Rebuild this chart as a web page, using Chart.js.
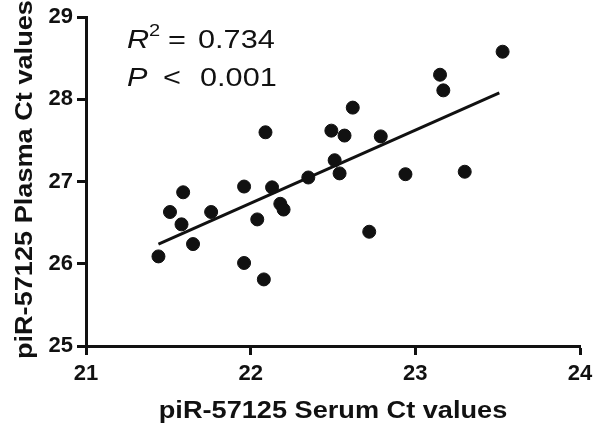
<!DOCTYPE html>
<html>
<head>
<meta charset="utf-8">
<script src="https://cdn.jsdelivr.net/npm/chart.js@4.4.1/dist/chart.umd.min.js"></script>
<style>
  html, body { margin: 0; padding: 0; background: #fff; }
</style>
</head>
<body>
<canvas id="chart" width="600" height="432"></canvas>
<script>
// Ct-värden (serum på x, plasma på y)
const serumCt = [21.44, 21.51, 21.58, 21.59, 21.65, 21.76, 21.96, 21.96, 22.04, 22.08,
                 22.09, 22.13, 22.18, 22.20, 22.35, 22.49, 22.51, 22.54, 22.57, 22.62,
                 22.72, 22.79, 22.94, 23.15, 23.17, 23.30, 23.53];
const plasmaCt = [26.09, 26.63, 26.48, 26.87, 26.24, 26.63, 26.94, 26.01, 26.54, 25.81,
                  27.60, 26.93, 26.73, 26.66, 27.05, 27.62, 27.26, 27.10, 27.56, 27.90,
                  26.39, 27.55, 27.09, 28.30, 28.11, 27.12, 28.58];

// Regressionslinjens ändpunkter
const fitX = [21.44, 23.51];
const fitY = [26.24, 28.08];

const xTicks = [21, 22, 23, 24];
const yTicks = [25, 26, 27, 28, 29];

const xTitle = 'piR-57125 Serum Ct values';
const yTitle = 'piR-57125 Plasma Ct values';
const r2Text = '0.734';
const pText = '0.001';

const ink = '#111111';
const fontFamily = '"Liberation Sans", Arial, Helvetica, sans-serif';
const stretch = 1.18; // texten i originalet är lite utdragen på bredden

// Ritar text som är utdragen på bredden
function wideText(ctx, text, x, y, angle) {
    ctx.save();
    ctx.translate(x, y);
    if (angle) ctx.rotate(angle);
    ctx.scale(stretch, 1);
    ctx.fillText(text, 0, 0);
    ctx.restore();
}

// Axeltitlar och statistiktext
const textPlugin = {
    id: 'textPlugin',
    afterDraw(chart) {
        const { ctx, chartArea } = chart;
        const left = chartArea.left;
        const top = chartArea.top;
        ctx.save();
        ctx.fillStyle = ink;
        ctx.textBaseline = 'alphabetic';

        // axeltitlar
        ctx.font = 'bold 23px ' + fontFamily;
        ctx.textAlign = 'center';
        wideText(ctx, xTitle, (chartArea.left + chartArea.right) / 2, 418);
        wideText(ctx, yTitle, 32, (chartArea.top + chartArea.bottom) / 2 - 2, -Math.PI / 2);

        // R² och P
        ctx.textAlign = 'left';
        ctx.font = 'italic 26px ' + fontFamily;
        wideText(ctx, 'R', left + 41, top + 31);
        wideText(ctx, 'P', left + 41, top + 69);
        ctx.font = '17px ' + fontFamily;
        wideText(ctx, '2', left + 63, top + 19);
        ctx.font = '26px ' + fontFamily;
        wideText(ctx, '=', left + 82, top + 31);
        wideText(ctx, r2Text, left + 112, top + 31);
        wideText(ctx, '<', left + 77, top + 69);
        wideText(ctx, pText, left + 114, top + 69);
        ctx.restore();
    }
};

const tickFont = { family: fontFamily, size: 22, weight: 'bold' };

new Chart(document.getElementById('chart'), {
    type: 'scatter',
    data: {
        datasets: [
            {
                data: serumCt.map((x, i) => ({ x, y: plasmaCt[i] })),
                backgroundColor: ink,
                borderColor: ink,
                pointRadius: 6.5,
                pointHoverRadius: 6.5,
                clip: false
            },
            {
                type: 'line',
                data: fitX.map((x, i) => ({ x, y: fitY[i] })),
                borderColor: ink,
                borderWidth: 3,
                pointRadius: 0,
                fill: false
            }
        ]
    },
    options: {
        responsive: false,
        animation: false,
        layout: { padding: { top: 16, right: 20, left: 0, bottom: 0 } },
        plugins: {
            legend: { display: false },
            tooltip: { enabled: false }
        },
        scales: {
            x: {
                type: 'linear',
                min: 21,
                max: 24,
                afterBuildTicks: s => { s.ticks = xTicks.map(v => ({ value: v })); },
                afterFit: s => { s.height = 86; },
                ticks: { color: ink, font: tickFont, padding: 6 },
                grid: { drawOnChartArea: false, tickLength: 9, tickWidth: 3, tickColor: ink },
                border: { color: ink, width: 3 }
            },
            y: {
                min: 25,
                max: 29,
                afterBuildTicks: s => { s.ticks = yTicks.map(v => ({ value: v })); },
                afterFit: s => { s.width = 86; },
                ticks: { color: ink, font: tickFont, padding: 4 },
                grid: { drawOnChartArea: false, tickLength: 9, tickWidth: 3, tickColor: ink },
                border: { color: ink, width: 3 }
            }
        }
    },
    plugins: [textPlugin]
});
</script>
</body>
</html>
